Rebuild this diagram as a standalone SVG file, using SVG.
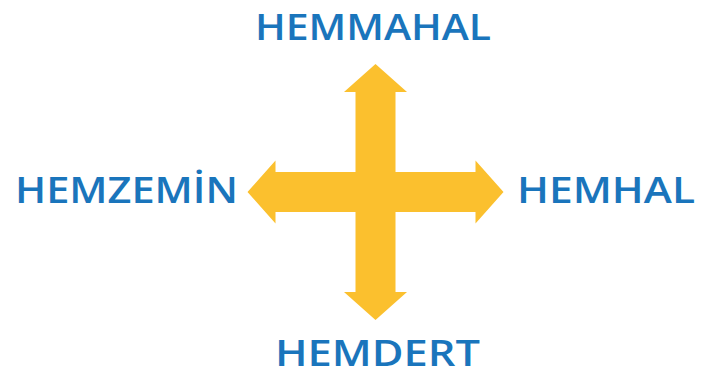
<svg xmlns="http://www.w3.org/2000/svg" width="717" height="372" viewBox="0 0 717 372">
<style>
.lbl{font-family:"Open Sans","Liberation Sans",sans-serif;font-weight:600;font-size:36px;fill:#1A75BC}
.arrow{fill:#FBC02E}
</style>
<rect width="717" height="372" fill="#FFFFFF"/>
<g id="connectors">
<path class="arrow" d="M375.5,64 L407,92 L395.5,92 L395.5,172 L475.5,172 L475.5,160.5 L503.5,192 L475.5,223.5 L475.5,212 L395.5,212 L395.5,292 L407,292 L375.5,320 L344,292 L355.5,292 L355.5,212 L275.5,212 L275.5,223.5 L247.5,192 L275.5,160.5 L275.5,172 L355.5,172 L355.5,92 L344,92 Z"/>
</g>
<g id="hemmahal"><text class="lbl" x="255" y="39.5" textLength="236" lengthAdjust="spacingAndGlyphs">HEMMAHAL</text></g>
<g id="hemzemin"><text class="lbl" x="15" y="203.3" textLength="223" lengthAdjust="spacingAndGlyphs">HEMZEMİN</text></g>
<g id="hemhal"><text class="lbl" x="517" y="203.3" textLength="178" lengthAdjust="spacingAndGlyphs">HEMHAL</text></g>
<g id="hemdert"><text class="lbl" x="275" y="365.5" textLength="205" lengthAdjust="spacingAndGlyphs">HEMDERT</text></g>
</svg>
